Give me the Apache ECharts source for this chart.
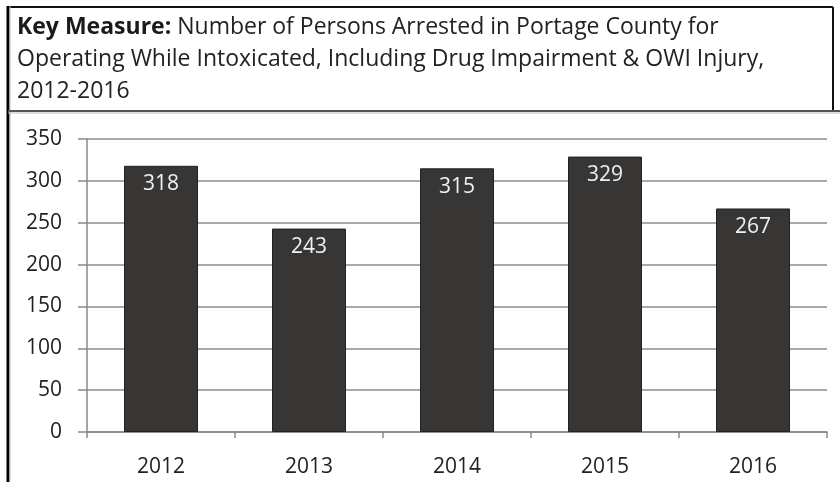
<!DOCTYPE html>
<html>
<head>
<meta charset="utf-8">
<script src="https://cdn.jsdelivr.net/npm/echarts@6/dist/echarts.min.js"></script>
<style>
  html, body { margin: 0; padding: 0; background: #fff; }
  #chart { width: 840px; height: 482px; }
</style>
</head>
<body>
<div id="chart"></div>
<script>
  // data
  var years = ['2012', '2013', '2014', '2015', '2016'];
  var arrests = [318, 243, 315, 329, 267];
  var yTicks = { min: 0, max: 350, interval: 50 };

  var font = '"Open Sans", sans-serif';
  var chart = echarts.init(document.getElementById('chart'));

  chart.setOption({
    backgroundColor: '#fff',
    animation: false,
    title: {
      left: 12,
      top: 6,
      text: '{b|Key Measure:} Number of Persons Arrested in Portage County for\nOperating While Intoxicated, Including Drug Impairment & OWI Injury,\n2012-2016',
      textStyle: {
        fontFamily: font,
        fontSize: 23,
        fontWeight: 'normal',
        color: '#222',
        lineHeight: 32,
        rich: {
          b: { fontFamily: font, fontSize: 23, fontWeight: 'bold', color: '#1a1a1a', lineHeight: 32 }
        }
      }
    },
    graphic: [
      // frame round the title block
      { type: 'line', shape: { x1: 7, y1: 7, x2: 833, y2: 7 }, style: { stroke: '#111', lineWidth: 2 } },
      { type: 'line', shape: { x1: 833, y1: 7, x2: 833, y2: 111 }, style: { stroke: '#111', lineWidth: 2 } },
      { type: 'line', shape: { x1: 8, y1: 6, x2: 8, y2: 482 }, style: { stroke: '#000', lineWidth: 3 } },
      { type: 'line', shape: { x1: 10, y1: 6, x2: 10, y2: 482 }, style: { stroke: '#bbb', lineWidth: 1 } },
      { type: 'line', shape: { x1: 8, y1: 111, x2: 840, y2: 111 }, style: { stroke: '#555', lineWidth: 2 } },
      { type: 'line', shape: { x1: 8, y1: 113, x2: 840, y2: 113 }, style: { stroke: '#bbb', lineWidth: 1 } }
    ],
    grid: { left: 87, right: 13, top: 139, bottom: 50 },
    xAxis: {
      type: 'category',
      data: years,
      axisLine: { lineStyle: { color: '#888', width: 1.5 } },
      axisTick: { show: true, length: 6, lineStyle: { color: '#888', width: 1.5 } },
      axisLabel: { fontFamily: font, fontSize: 21, color: '#222', margin: 25 }
    },
    yAxis: {
      type: 'value',
      min: yTicks.min,
      max: yTicks.max,
      interval: yTicks.interval,
      axisLine: { show: true, lineStyle: { color: '#888', width: 1.5 } },
      axisTick: { show: true, length: 9, lineStyle: { color: '#888', width: 1.5 } },
      splitLine: { lineStyle: { color: '#8c8c8c', width: 1.5 } },
      axisLabel: { fontFamily: font, fontSize: 21, color: '#222', margin: 25 }
    },
    series: [{
      type: 'bar',
      data: arrests,
      barWidth: '50%',
      itemStyle: { color: '#383634', borderColor: '#222', borderWidth: 1 },
      label: {
        show: true,
        position: 'insideTop',
        distance: 8,
        fontFamily: font,
        fontSize: 21,
        color: '#eef0f2'
      }
    }]
  });
</script>
</body>
</html>
